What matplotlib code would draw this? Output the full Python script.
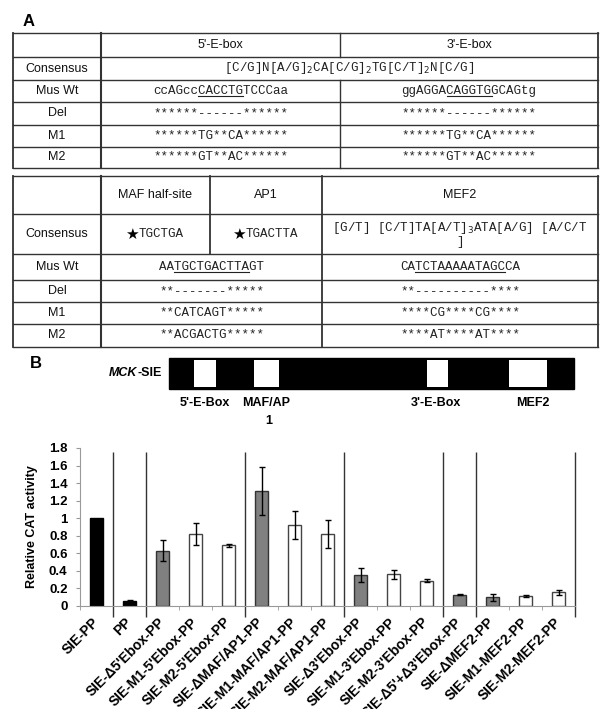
import numpy as np
import matplotlib
matplotlib.use("Agg")
import matplotlib.pyplot as plt
from matplotlib.patches import Rectangle

plt.rcParams['font.family'] = ['Liberation Sans', 'DejaVu Sans']

# ---------------- data ----------------
labels = ["SIE-PP", "PP", "SIE-Δ5'Ebox-PP", "SIE-M1-5'Ebox-PP", "SIE-M2-5'Ebox-PP",
          "SIE-ΔMAF/AP1-PP", "SIE-M1-MAF/AP1-PP", "SIE-M2-MAF/AP1-PP",
          "SIE-Δ3'Ebox-PP", "SIE-M1-3'Ebox-PP", "SIE-M2-3'Ebox-PP",
          "SIE-Δ5'+Δ3'Ebox-PP", "SIE-ΔMEF2-PP", "SIE-M1-MEF2-PP", "SIE-M2-MEF2-PP"]
values = [1.00, 0.06, 0.63, 0.82, 0.69, 1.31, 0.92, 0.82, 0.35, 0.36, 0.29, 0.13, 0.10, 0.11, 0.155]
errors = [0.0, 0.01, 0.12, 0.12, 0.02, 0.27, 0.16, 0.16, 0.08, 0.05, 0.02, 0.01, 0.04, 0.01, 0.025]
kinds = ['black', 'black', 'gray', 'white', 'white', 'gray', 'white', 'white',
         'gray', 'white', 'white', 'gray', 'gray', 'white', 'white']
group_bounds = [0.5, 1.5, 4.5, 7.5, 10.5, 11.5, 14.5]
ytick_labels = ['0', '0.2', '0.4', '0.6', '0.8', '1', '1.2', '1.4', '1.6', '1.8']

row_names = ["Consensus", "Mus Wt", "Del", "M1", "M2"]
ebox5 = ["ccAGccCACCTGTCCCaa", "******------******", "******TG**CA******", "******GT**AC******"]
ebox3 = ["ggAGGACAGGTGGCAGtg", "******------******", "******TG**CA******", "******GT**AC******"]
ebox_consensus = r"[C/G]N[A/G]$_2$CA[C/G]$_2$TG[C/T]$_2$N[C/G]"
mafap1 = ["AATGCTGACTTAGT", "**-------*****", "**CATCAGT*****", "**ACGACTG*****"]
mef2 = ["CATCTAAAAATAGCCA", "**----------****", "****CG****CG****", "****AT****AT****"]
maf_consensus = "TGCTGA"
ap1_consensus = "TGACTTA"
mef2_consensus = r"[G/T] [C/T]TA[A/T]$_3$ATA[A/G] [A/C/T"

colors = {'black': 'black', 'gray': '#808080', 'white': 'white'}
edges = {'black': 'black', 'gray': '#333333', 'white': '#444444'}

# ---------------- figure ----------------
fig = plt.figure(figsize=(6, 7.09), dpi=100)
ax0 = fig.add_axes([0, 0, 1, 1])
ax0.set_xlim(0, 600)
ax0.set_ylim(709, 0)
ax0.axis('off')

mono = ['Liberation Mono', 'DejaVu Sans Mono', 'DejaVu Sans']
seq_kw = dict(ha='center', va='center', fontsize=9, family=mono, color='#222222')
hdr_kw = dict(ha='center', va='center', fontsize=9, color='#111111')
line_c = '#333333'

ax0.text(29, 21, "A", ha='center', va='center', fontsize=12, fontweight='bold')
ax0.text(36, 364, "B", ha='center', va='center', fontsize=12, fontweight='bold')

def mid(a, b):
    return (a + b) / 2

# ---- table 1 ----
L, C1, MID, R = 13, 101, 340, 598
ys1 = [33, 57, 80, 102, 125, 147, 168]
for y in ys1:
    ax0.plot([L, R], [y, y], color=line_c, lw=1.0)
ax0.plot([L, L], [ys1[0], ys1[-1]], color=line_c, lw=1.3)
ax0.plot([R, R], [ys1[0], ys1[-1]], color=line_c, lw=1.3)
ax0.plot([C1, C1], [ys1[0], ys1[-1]], color=line_c, lw=1.5)
ax0.plot([MID, MID], [ys1[0], ys1[1]], color=line_c, lw=1.0)
ax0.plot([MID, MID], [ys1[2], ys1[-1]], color=line_c, lw=1.0)

ax0.text(mid(C1, MID), mid(ys1[0], ys1[1]), "5'-E-box", **hdr_kw)
ax0.text(mid(MID, R), mid(ys1[0], ys1[1]), "3'-E-box", **hdr_kw)
for i, name in enumerate(row_names):
    ax0.text(mid(L, C1), mid(ys1[i + 1], ys1[i + 2]), name, **hdr_kw)
ax0.text(mid(C1, R), mid(ys1[1], ys1[2]), ebox_consensus, **seq_kw)

underlines = []
for i in range(4):
    yc = mid(ys1[i + 2], ys1[i + 3])
    t5 = ax0.text(mid(C1, MID), yc, ebox5[i], **seq_kw)
    t3 = ax0.text(mid(MID, R), yc, ebox3[i], **seq_kw)
    if i == 0:
        underlines.append((t5, 6, 12))
        underlines.append((t3, 6, 12))

# ---- table 2 ----
C2, C3 = 210, 322
ys2 = [176, 214, 254, 280, 302, 324, 347]
for y in ys2:
    ax0.plot([L, R], [y, y], color=line_c, lw=1.0)
ax0.plot([L, L], [ys2[0], ys2[-1]], color=line_c, lw=1.3)
ax0.plot([R, R], [ys2[0], ys2[-1]], color=line_c, lw=1.3)
ax0.plot([C1, C1], [ys2[0], ys2[-1]], color=line_c, lw=1.5)
ax0.plot([C2, C2], [ys2[0], ys2[2]], color=line_c, lw=1.3)
ax0.plot([C3, C3], [ys2[0], ys2[-1]], color=line_c, lw=1.3)

ax0.text(mid(C1, C2), mid(ys2[0], ys2[1]), "MAF half-site", **hdr_kw)
ax0.text(mid(C2, C3), mid(ys2[0], ys2[1]), "AP1", **hdr_kw)
ax0.text(mid(C3, R), mid(ys2[0], ys2[1]), "MEF2", **hdr_kw)
for i, name in enumerate(row_names):
    ax0.text(mid(L, C1), mid(ys2[i + 1], ys2[i + 2]), name, **hdr_kw)
yc = mid(ys2[1], ys2[2])
t_maf = ax0.text(mid(C1, C2) + 6, yc, maf_consensus, **seq_kw)
t_ap1 = ax0.text(mid(C2, C3) + 6, yc, ap1_consensus, **seq_kw)
ax0.text(mid(C3, R), yc - 6, mef2_consensus, **seq_kw)
ax0.text(mid(C3, R), yc + 8, "]", **seq_kw)
for i in range(4):
    yc2 = mid(ys2[i + 2], ys2[i + 3])
    ta = ax0.text(mid(C1, C3), yc2, mafap1[i], **seq_kw)
    tm = ax0.text(mid(C3, R), yc2, mef2[i], **seq_kw)
    if i == 0:
        underlines.append((ta, 2, 12))
        underlines.append((tm, 2, 14))

# ---- MCK-SIE schematic ----
ax0.add_patch(Rectangle((169, 358), 405, 31, fc='black', ec='black'))
for x0, w in [(194, 22), (254, 25), (427, 21), (509, 38)]:
    ax0.add_patch(Rectangle((x0, 360), w, 27, fc='white', ec='none'))
lab_kw = dict(ha='center', va='center', fontsize=9, fontweight='bold')
ax0.text(205, 403, "5'-E-Box", **lab_kw)
ax0.text(266, 403, "MAF/AP", **lab_kw)
ax0.text(269, 421, "1", **lab_kw)
ax0.text(436, 403, "3'-E-Box", **lab_kw)
ax0.text(533, 403, "MEF2", **lab_kw)
t_sie = ax0.text(162, 373, "-SIE", ha='right', va='center', fontsize=9, fontweight='bold')

# ---------------- bar chart ----------------
ax = fig.add_axes([80 / 600, 1 - 606 / 709, 495 / 600, 158 / 709])
x = np.arange(len(labels))
ax.bar(x, values, width=0.42, color=[colors[k] for k in kinds],
       edgecolor=[edges[k] for k in kinds], linewidth=1.0, zorder=2)
xe = [xi for xi, e in zip(x, errors) if e > 0]
ve = [v for v, e in zip(values, errors) if e > 0]
ee = [e for e in errors if e > 0]
ax.errorbar(xe, ve, yerr=ee, fmt='none', ecolor='black', elinewidth=1,
            capsize=2.5, capthick=1, zorder=3)
ax.vlines(group_bounds, -0.125, 1.755, color='#333333', lw=1, clip_on=False)

ax.set_xlim(-0.5, 14.5)
ax.set_ylim(0, 1.8)
ax.set_yticks(np.arange(0, 1.81, 0.2))
ax.set_yticklabels(ytick_labels, fontsize=9.5, fontweight='bold')
ax.set_xticks(x)
ax.set_xticklabels(labels, rotation=45, ha='right', va='center',
                   rotation_mode='anchor', fontsize=10, fontweight='bold')
ax.set_xticks(np.arange(-0.5, 15, 1), minor=True)
ax.tick_params(axis='x', which='major', length=0, pad=10)
ax.tick_params(axis='x', which='minor', length=3, color='#999999')
ax.tick_params(axis='y', length=3, color='#999999', pad=6)
for s in ['top', 'right']:
    ax.spines[s].set_visible(False)
ax.spines['left'].set_color('#999999')
ax.spines['bottom'].set_color('#999999')
ax.set_ylabel("Relative CAT activity", fontsize=9, fontweight='bold', labelpad=8)
ax.set_facecolor('none')

# ---------------- underlines, stars and MCK label ----------------
fig.canvas.draw()
renderer = fig.canvas.get_renderer()
for t, i0, i1 in underlines:
    bb = t.get_window_extent(renderer)
    cw = bb.width / len(t.get_text())
    yline = 709 - (bb.y0 + 1.5)
    ax0.plot([bb.x0 + i0 * cw, bb.x0 + i1 * cw], [yline, yline], color='#222222', lw=0.8)
for t in [t_maf, t_ap1]:
    bb = t.get_window_extent(renderer)
    ax0.text(bb.x0, 234, "★", ha='right', va='center', fontsize=11,
             family=['DejaVu Sans'], color='black')
bb = t_sie.get_window_extent(renderer)
ax0.text(bb.x0, 373, "MCK", ha='right', va='center', fontsize=9,
         fontweight='bold', style='italic')

fig.savefig("out.png", dpi=100)
